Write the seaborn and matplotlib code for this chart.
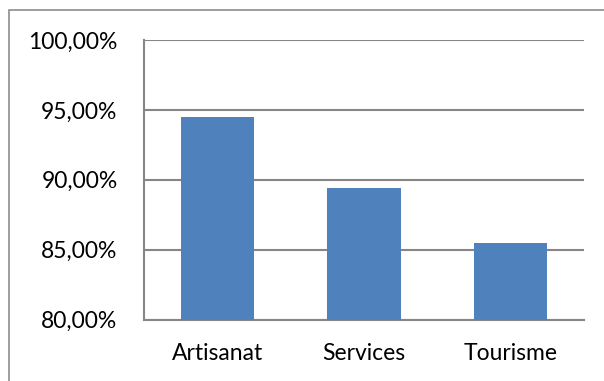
import matplotlib
matplotlib.use("Agg")
import matplotlib.pyplot as plt
import matplotlib.ticker as mticker
from matplotlib.patches import Rectangle
import seaborn as sns
import pandas as pd

# Taux par secteur (en %)
secteurs = ["Artisanat", "Services", "Tourisme"]
taux = [94.5, 89.4, 85.5]
y_ticks = [80, 85, 90, 95, 100]

df = pd.DataFrame({"secteur": secteurs, "taux": taux})

sns.set_theme(style="white")
plt.rcParams["font.family"] = ["Lato", "DejaVu Sans"]

W, H = 604, 381
fig = plt.figure(figsize=(W / 100, H / 100), dpi=100)
ax = fig.add_axes([144 / W, 1 - 319.5 / H, 440 / W, 279.5 / H])

sns.barplot(data=df, x="secteur", y="taux", color="#4F81BD", width=0.5,
            saturation=1, ax=ax, zorder=3)
for p in ax.patches:
    p.set_edgecolor("none")

ax.set_ylim(80, 100)
ax.set_yticks(y_ticks)
ax.yaxis.set_major_formatter(
    mticker.FuncFormatter(lambda v, _: f"{v:.2f}%".replace(".", ",")))
ax.set_xlim(-0.5, 2.5)
ax.set_xlabel("")
ax.set_ylabel("")

grid_c = "#868686"
ax.grid(axis="y", color=grid_c, linewidth=1.5, zorder=0)
for side in ("top", "right"):
    ax.spines[side].set_visible(False)
for side in ("left", "bottom"):
    ax.spines[side].set_color(grid_c)
    ax.spines[side].set_linewidth(1.5)

ax.tick_params(axis="y", length=0, pad=19, labelsize=16.5, labelcolor="black")
ax.tick_params(axis="x", length=0, pad=17, labelsize=16.5, labelcolor="black")

# Cadre extérieur du graphique
fig.patches.append(Rectangle((8.5 / W, -0.1), 1.2, 1 - 10.5 / H + 0.1,
                             transform=fig.transFigure, fill=False,
                             edgecolor="#8C8C8C", linewidth=1.2))

fig.savefig("out.png", dpi=100, facecolor="white")
